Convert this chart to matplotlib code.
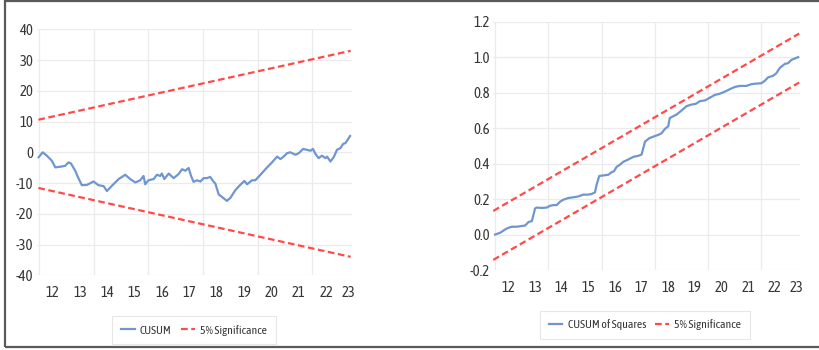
import matplotlib
matplotlib.use("Agg")
import matplotlib.pyplot as plt
from matplotlib.patches import Rectangle
from matplotlib.lines import Line2D

plt.rcParams['font.family'] = ['Asap Condensed', 'Barlow Semi Condensed', 'DejaVu Sans']

# ---- CUSUM (recursive residuals), time in years (20xx) ----
cusum_t = [11.98, 12.13, 12.28, 12.46, 12.59, 12.77, 12.95, 13.07, 13.16, 13.32,
           13.40, 13.56, 13.75, 13.99, 14.17, 14.36, 14.48, 14.66, 14.91, 15.15,
           15.33, 15.52, 15.70, 15.82, 15.88, 16.00, 16.19, 16.31, 16.43, 16.49,
           16.58, 16.74, 16.92, 17.10, 17.23, 17.35, 17.47, 17.56, 17.65, 17.78,
           17.90, 18.02, 18.14, 18.26, 18.36, 18.45, 18.57, 18.69, 18.87, 19.00,
           19.18, 19.36, 19.51, 19.61, 19.79, 19.91, 20.10, 20.28, 20.52, 20.71,
           20.83, 20.95, 21.07, 21.19, 21.38, 21.50, 21.66, 21.80, 21.93, 22.02,
           22.11, 22.23, 22.35, 22.48, 22.54, 22.66, 22.78, 22.90, 23.03, 23.12,
           23.21, 23.27, 23.38]
cusum_v = [-1.6, 0.0, -1.1, -2.7, -4.9, -4.7, -4.4, -3.3, -3.6, -6.0,
           -7.7, -10.7, -10.6, -9.5, -10.7, -11.0, -12.6, -10.9, -8.7, -7.3,
           -8.7, -9.8, -9.1, -7.7, -10.4, -9.1, -8.7, -7.3, -7.7, -6.9,
           -8.7, -6.9, -8.4, -7.1, -5.5, -6.0, -5.1, -7.7, -9.6, -9.1,
           -9.5, -8.4, -8.4, -8.0, -9.3, -10.2, -13.7, -14.5, -15.8, -14.8,
           -12.3, -10.6, -9.3, -10.4, -9.1, -9.1, -7.3, -5.5, -3.3, -1.4,
           -2.2, -1.4, -0.3, 0.0, -0.8, -0.3, 1.1, 0.8, 0.5, 1.1,
           -0.5, -1.9, -1.1, -1.9, -1.4, -3.0, -1.6, 0.8, 1.4, 2.7,
           3.0, 3.8, 5.3]
cusum_band_t = [11.97, 23.40]
cusum_upper = [10.6, 33.0]
cusum_lower = [-11.6, -34.0]

# ---- CUSUM of squares ----
sq_t = [12.00, 12.19, 12.38, 12.50, 12.63, 12.81, 13.00, 13.13, 13.25, 13.38,
        13.50, 13.56, 13.75, 13.94, 14.06, 14.19, 14.31, 14.44, 14.56, 14.75,
        14.94, 15.13, 15.31, 15.50, 15.63, 15.75, 15.81, 15.91, 16.06, 16.25,
        16.38, 16.46, 16.56, 16.69, 16.81, 17.00, 17.19, 17.38, 17.50, 17.63,
        17.79, 17.94, 18.13, 18.25, 18.38, 18.50, 18.56, 18.69, 18.81, 19.00,
        19.19, 19.38, 19.54, 19.69, 19.88, 20.06, 20.25, 20.44, 20.63, 20.81,
        21.00, 21.19, 21.44, 21.63, 21.81, 22.00, 22.13, 22.25, 22.44, 22.56,
        22.69, 22.88, 23.00, 23.13, 23.38]
sq_v = [0.000, 0.010, 0.029, 0.038, 0.044, 0.044, 0.048, 0.051, 0.070, 0.076,
        0.147, 0.152, 0.150, 0.152, 0.162, 0.166, 0.166, 0.185, 0.196, 0.206,
        0.210, 0.215, 0.225, 0.225, 0.229, 0.238, 0.280, 0.330, 0.333, 0.337,
        0.352, 0.356, 0.381, 0.394, 0.410, 0.423, 0.438, 0.444, 0.451, 0.524,
        0.543, 0.552, 0.562, 0.571, 0.596, 0.610, 0.657, 0.667, 0.676, 0.699,
        0.724, 0.733, 0.737, 0.752, 0.756, 0.771, 0.787, 0.794, 0.806, 0.819,
        0.832, 0.838, 0.838, 0.848, 0.851, 0.853, 0.867, 0.886, 0.895, 0.909,
        0.939, 0.962, 0.966, 0.985, 1.000]
sq_band_t = [11.93, 23.42]
sq_upper = [0.133, 1.133]
sq_lower = [-0.143, 0.857]

# ---- axis labels ----
year_labels = ['12', '13', '14', '15', '16', '17', '18', '19', '20', '21', '22', '23']
year_label_pos = [12.5, 13.5, 14.5, 15.5, 16.5, 17.5, 18.5, 19.5, 20.5, 21.5, 22.5, 23.33]
grid_years = [12, 14, 16, 18, 20, 22]
cusum_yticks = [-40, -30, -20, -10, 0, 10, 20, 30, 40]
sq_yticks = [-0.2, 0.0, 0.2, 0.4, 0.6, 0.8, 1.0, 1.2]

BLUE = '#7096cf'
RED = '#ff4a4a'
GRID = '#ebebeb'
TXT = '#363636'

W, H = 819, 350
fig = plt.figure(figsize=(W / 100, H / 100), dpi=100)
fig.patch.set_facecolor('white')


def px_axes(x0, y_top, x1, y_bot):
    return fig.add_axes([x0 / W, 1 - y_bot / H, (x1 - x0) / W, (y_bot - y_top) / H])


def style(ax, yticks, ylabels, xpad):
    ax.set_xlim(11.92, 23.45)
    ax.set_ylim(yticks[0], yticks[-1])
    ax.set_yticks(yticks)
    ax.set_yticklabels(ylabels)
    ax.set_xticks(year_label_pos)
    ax.set_xticklabels(year_labels)
    ax.set_xticks(grid_years, minor=True)
    ax.grid(True, axis='y', which='major', color=GRID, lw=0.9, zorder=0)
    ax.grid(True, axis='x', which='minor', color=GRID, lw=0.9, zorder=0)
    ax.grid(False, axis='x', which='major')
    for s in ax.spines.values():
        s.set_visible(False)
    ax.tick_params(axis='both', which='both', length=0, labelsize=10.5, colors=TXT)
    ax.tick_params(axis='x', pad=xpad)
    ax.tick_params(axis='y', pad=2.5)


def dashed(ax, x, y):
    ln, = ax.plot(x, y, color=RED, lw=1.6, zorder=3)
    ln.set_dashes((3.0, 1.6))
    return ln


def legend(ax, label, cx, cy):
    h1 = Line2D([], [], color=BLUE, lw=1.6)
    h2 = Line2D([], [], color=RED, lw=1.6, dashes=(3.0, 1.6))
    leg = fig.legend([h1, h2], [label, '5% Significance'], loc='center',
                     bbox_to_anchor=(cx / W, 1 - cy / H), bbox_transform=fig.transFigure,
                     ncol=2, fontsize=8.5, frameon=True, fancybox=False,
                     handlelength=1.15, handletextpad=0.45, columnspacing=0.8,
                     borderpad=0.75, labelcolor=TXT)
    leg.get_frame().set_edgecolor('#e2e2e2')
    leg.get_frame().set_linewidth(0.8)


# left panel: CUSUM
ax1 = px_axes(37, 29.3, 352, 275.3)
style(ax1, cusum_yticks, [str(v) for v in cusum_yticks], 7.5)
ax1.plot(cusum_t, cusum_v, color=BLUE, lw=1.6, zorder=4)
dashed(ax1, cusum_band_t, cusum_upper)
dashed(ax1, cusum_band_t, cusum_lower)
legend(ax1, 'CUSUM', 194, 330)

# right panel: CUSUM of squares
ax2 = px_axes(493, 21.7, 800, 270)
style(ax2, sq_yticks, [f'{v:.1f}' for v in sq_yticks], 8)
ax2.plot(sq_t, sq_v, color=BLUE, lw=1.6, zorder=4)
dashed(ax2, sq_band_t, sq_upper)
dashed(ax2, sq_band_t, sq_lower)
legend(ax2, 'CUSUM of Squares', 645, 325)

# outer frame
fig.patches.append(Rectangle((4.5 / W, 1 - 346.5 / H), (W + 10) / W, 345.5 / H,
                             transform=fig.transFigure, fill=False,
                             edgecolor='#5a5a5a', lw=1.6, clip_on=False))

fig.savefig('out.png', dpi=100)
